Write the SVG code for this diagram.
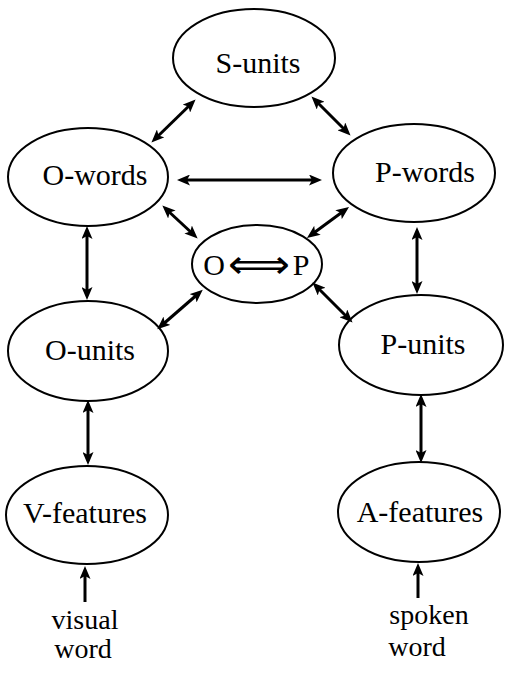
<svg xmlns="http://www.w3.org/2000/svg" width="510" height="681" viewBox="0 0 510 681">
<style>
.node ellipse{fill:#fff;stroke:#000;stroke-width:2}
.lbl{font-family:"Liberation Serif","Times New Roman",serif;font-size:30px;fill:#000;text-anchor:middle}
.sm{font-size:28px}
.conn line{stroke:#000;stroke-width:3;fill:none}
.bi{marker-start:url(#ah);marker-end:url(#ah)}
.uni{marker-end:url(#ah)}
</style>
<defs>
<marker id="ah" viewBox="0 0 13 11" refX="8" refY="5.5" markerWidth="13" markerHeight="11" markerUnits="userSpaceOnUse" orient="auto-start-reverse">
<path d="M0,0 L13,5.5 L0,11 L3,5.5 z" fill="#000"/>
</marker>
</defs>
<rect width="510" height="681" fill="#fff"/>
<g id="s-units" class="node"><ellipse cx="254" cy="58" rx="81" ry="49"/><text class="lbl" x="258" y="73">S-units</text></g>
<g id="o-words" class="node"><ellipse cx="88" cy="177" rx="80" ry="49"/><text class="lbl" x="95" y="185">O-words</text></g>
<g id="p-words" class="node"><ellipse cx="414" cy="173" rx="81" ry="49"/><text class="lbl" x="425" y="182">P-words</text></g>
<g id="op" class="node"><ellipse cx="257" cy="264" rx="65" ry="39"/>
<text class="lbl" x="214" y="275">O</text>
<text x="0" y="0" transform="translate(259,278) scale(1.08,1)" font-family="DejaVu Sans,sans-serif" font-size="40" text-anchor="middle">⟺</text>
<text class="lbl" x="301" y="275">P</text></g>
<g id="o-units" class="node"><ellipse cx="88" cy="351" rx="80" ry="50"/><text class="lbl" x="90" y="360">O-units</text></g>
<g id="p-units" class="node"><ellipse cx="421" cy="345" rx="82" ry="50"/><text class="lbl" x="423" y="354">P-units</text></g>
<g id="v-features" class="node"><ellipse cx="87" cy="515" rx="81" ry="49"/><text class="lbl" x="85" y="523">V-features</text></g>
<g id="a-features" class="node"><ellipse cx="419" cy="512" rx="81" ry="50"/><text class="lbl" x="420" y="522">A-features</text></g>
<g id="visual-word"><text class="lbl sm" x="85" y="629">visual</text><text class="lbl sm" x="83" y="658">word</text></g>
<g id="spoken-word"><text class="lbl sm" x="429" y="624">spoken</text><text class="lbl sm" x="417" y="656">word</text></g>
<g id="connectors" class="conn">
<line class="bi" x1="192" y1="103" x2="155" y2="139"/>
<line class="bi" x1="315" y1="100" x2="347" y2="132"/>
<line class="bi" x1="182" y1="180" x2="317" y2="180"/>
<line class="bi" x1="166" y1="209" x2="194" y2="235"/>
<line class="bi" x1="345" y1="210" x2="311" y2="235"/>
<line class="bi" x1="87" y1="231" x2="87" y2="295"/>
<line class="bi" x1="417" y1="232" x2="417" y2="289"/>
<line class="bi" x1="199" y1="293" x2="161" y2="326"/>
<line class="bi" x1="316" y1="286" x2="349" y2="319"/>
<line class="bi" x1="88" y1="405" x2="88" y2="460"/>
<line class="bi" x1="421" y1="399" x2="421" y2="458"/>
<line class="uni" x1="85" y1="602" x2="85" y2="571"/>
<line class="uni" x1="418" y1="598" x2="418" y2="568"/>
</g>
</svg>
